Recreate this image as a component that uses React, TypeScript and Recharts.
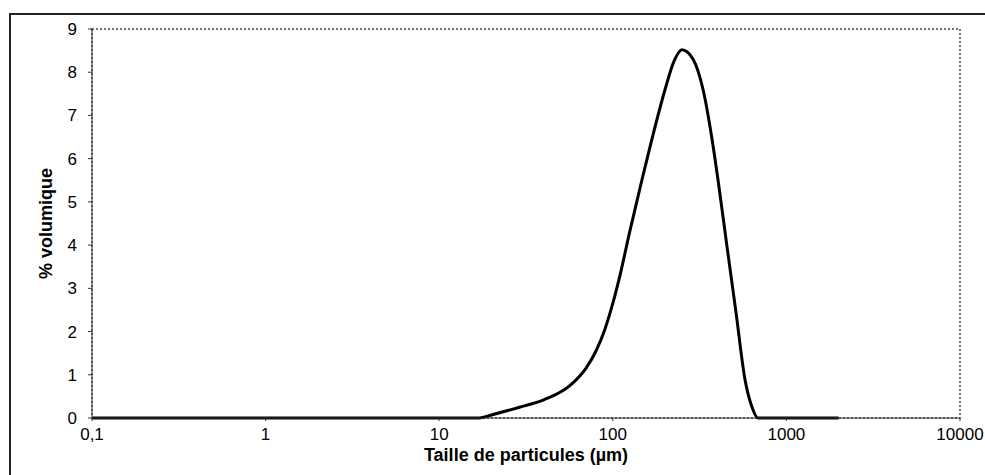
import {
  LineChart,
  Line,
  XAxis,
  YAxis,
  ReferenceArea,
} from 'recharts';

// particle size (µm) and volume %
const sizes = [0.1, 1, 10, 17, 20, 29, 40, 57, 70, 80, 90, 100, 110, 125, 147, 168, 200, 225, 250, 290, 331, 373, 404, 455, 513, 578, 634, 686, 1000, 2000];
const volume = [0, 0, 0, 0, 0.07, 0.25, 0.42, 0.76, 1.15, 1.55, 2.05, 2.65, 3.3, 4.3, 5.5, 6.45, 7.6, 8.25, 8.52, 8.3, 7.6, 6.45, 5.5, 3.96, 2.43, 0.88, 0.25, 0, 0, 0];

const xTicks = [0.1, 1, 10, 100, 1000, 10000];
const yTicks = [0, 1, 2, 3, 4, 5, 6, 7, 8, 9];

const data = sizes.map((s, i) => ({ size: s, vol: volume[i] }));

const font = '"Liberation Sans", Arial, sans-serif';
const tickStyle = { fill: '#000', fontSize: 17, fontFamily: font };
const titleStyle = { fill: '#000', fontSize: 18, fontWeight: 'bold', fontFamily: font };

export default function App() {
  return (
    <div
      style={{
        position: 'fixed',
        left: 0,
        top: 0,
        width: 985,
        height: 475,
        overflow: 'hidden',
        background: '#fff',
      }}
    >
      <div
        style={{
          position: 'absolute',
          left: 9,
          top: 13,
          width: 1000,
          height: 500,
          border: '2px solid #222',
        }}
      />
      <div style={{ position: 'absolute', left: 0, top: 0 }}>
        <LineChart
          width={985}
          height={475}
          data={data}
          margin={{ top: 29, right: 25, left: 0, bottom: 27 }}
        >
          <XAxis
            dataKey="size"
            type="number"
            scale="log"
            domain={[0.1, 10000]}
            ticks={xTicks}
            allowDataOverflow
            height={30}
            tick={tickStyle}
            tickFormatter={(v: number) => String(v).replace('.', ',')}
            tickSize={3}
            tickMargin={7}
            axisLine={{ stroke: '#333' }}
            tickLine={{ stroke: '#333' }}
            label={{
              value: 'Taille de particules (µm)',
              position: 'bottom',
              offset: 0,
              style: titleStyle,
            }}
          />
          <YAxis
            type="number"
            domain={[0, 9]}
            ticks={yTicks}
            width={92}
            tick={tickStyle}
            tickSize={4}
            tickMargin={11}
            axisLine={{ stroke: '#333' }}
            tickLine={{ stroke: '#333' }}
            label={{
              value: '% volumique',
              angle: -90,
              position: 'center',
              style: titleStyle,
            }}
          />
          <ReferenceArea
            x1={0.1}
            x2={10000}
            y1={0}
            y2={9}
            fill="none"
            stroke="#444"
            strokeWidth={1.5}
            strokeDasharray="2 2"
          />
          <Line
            type="monotone"
            dataKey="vol"
            stroke="#000"
            strokeWidth={3}
            dot={false}
            isAnimationActive={false}
          />
        </LineChart>
      </div>
    </div>
  );
}
